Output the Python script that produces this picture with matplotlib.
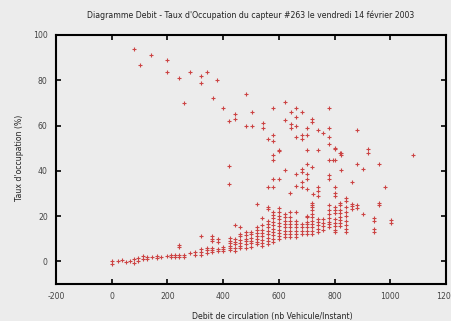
import matplotlib
matplotlib.use("Agg")
import matplotlib.pyplot as plt

# lower band (flow / occupancy rising together)
band_x = [0, 0, 21, 36, 50, 66, 81, 81, 96, 96, 113, 113, 126, 126, 144, 162, 162, 177, 197,
          213, 213, 227, 227, 242, 242, 242, 242, 261, 261, 281, 299, 299,
          321, 321, 321, 321, 341, 341, 341, 361, 361, 361, 361, 361, 361,
          380, 380, 380, 380, 398, 398, 398,
          425, 425, 425, 425, 425, 425, 443, 443, 443, 443, 443, 443,
          461, 461, 461, 461, 461, 461, 461, 481, 481, 481, 481, 481, 481,
          500, 500, 500, 500, 500, 500, 520, 520, 520, 520, 520, 520, 520, 520,
          540, 540, 540, 540, 540, 540, 540, 540,
          562, 562, 562, 562, 562, 562, 562, 562, 562, 562,
          580, 580, 580, 580, 580, 580, 580, 580, 580, 580,
          601, 601, 601, 601, 601, 601, 601, 601, 601, 601,
          622, 622, 622, 622, 622, 622, 622, 622,
          640, 640, 640, 640, 640, 640, 640, 640,
          660, 660, 660, 660, 660, 660, 660,
          682, 682, 682, 682,
          702, 702, 702, 702, 702, 702, 702,
          720, 720, 720, 720, 720, 720, 720, 720, 720, 720,
          741, 741, 741, 741, 741, 760, 760, 760, 760,
          780, 780, 780, 780, 780, 780, 780,
          802, 802, 802, 802, 802, 802, 802, 802,
          820, 820, 820, 820, 820, 820, 820, 820,
          841, 841, 841, 841, 841, 841, 841, 841,
          862, 862, 862, 882, 882, 902, 942, 942, 942, 942, 961, 961, 1002, 1002]
band_y = [-1, 0, 0, 0.5, -0.3, 0.2, -0.6, 1, 0, 1.3, 1.2, 2.3, 1, 2, 2, 1.6, 2.4, 2, 2.3,
          2, 3, 2, 3, 2, 3, 6.3, 7.2, 2, 3, 3.8, 3, 4.3,
          3, 4.3, 5.3, 11.2, 3.8, 5, 6, 4, 5, 6, 9, 10, 11.2,
          4.5, 5.5, 8.7, 9.7, 4.5, 5.5, 6.5,
          5, 6, 7, 8, 9, 10.5, 4.5, 6, 7.5, 8.5, 9.7, 15.9,
          6, 7, 8, 9.5, 11, 12, 15, 6, 7.5, 9, 10, 11.5, 13,
          6.5, 8, 9, 10.5, 12, 13, 7.5, 8.5, 10, 11, 12.5, 14, 15, 25.2,
          6.6, 8, 9.5, 11, 12.5, 14, 16, 19.3,
          7.5, 9, 10.5, 12, 13.5, 15, 16.5, 17.7, 23, 24,
          8.4, 10, 11.5, 13, 14.5, 16, 17.5, 19, 20.5, 21.6,
          9.7, 11, 12.5, 14, 15.5, 17, 18.5, 20, 21.6, 23.7,
          10.6, 12, 13.5, 15, 16.5, 18, 19.5, 20.8,
          10.6, 12, 13.5, 15, 16.5, 18, 19.4, 22,
          10.6, 12, 13.5, 15, 16.5, 17.7, 22,
          12, 13.5, 15, 16.3,
          12, 13.5, 15, 16.5, 17.5, 19.4, 20,
          12, 13.5, 15, 16.5, 18, 19.5, 21, 22.5, 24, 25,
          13, 14.5, 16, 17.5, 18.5, 14, 15.5, 17, 18.5,
          15, 16.3, 17.5, 19, 20.8, 22.5, 24.7,
          12.9, 14, 15.6, 17, 18.5, 21.2, 22.5, 24,
          15.5, 17, 18.2, 19.5, 21.2, 22.5, 24.7, 26,
          13, 14.1, 16, 18, 20, 22, 24, 26.5,
          23, 24.4, 25.5, 23.7, 24.7, 21, 13, 14.1, 18, 19.3, 24.7, 25.9, 17, 18.1]

# scattered middle points
mid_x = [421, 421, 580, 601, 640, 721, 742, 742, 742, 702, 780, 780, 802, 802, 802, 720,
         841, 862, 981, 882, 902, 961, 802, 822, 822, 822, 802, 919, 919, 1080,
         580, 580, 601, 622, 682, 682, 660, 702, 702, 720, 780, 795, 660, 682, 682,
         702, 580, 560, 602, 702, 741, 780, 802]
mid_y = [34, 42, 36.5, 36.5, 30, 29.6, 29, 31, 32.8, 36.2, 36.2, 38, 33, 30, 29, 26,
         28, 35.2, 33, 42.8, 40.9, 42.8, 45, 40.2, 47, 48, 49.8, 48, 49.7, 47,
         45, 46.8, 48.7, 40.3, 41, 39.3, 38.8, 42.8, 38.8, 41.8, 45, 45, 33.5, 35, 33,
         32, 33, 33, 49, 49, 49, 51.8, 50]

# high occupancy points (congested)
high_x = [80, 103, 140, 200, 200, 242, 281, 320, 320, 341, 379, 261, 362, 401, 443, 443,
          421, 481, 503, 481, 503, 542, 542, 580, 622, 643, 660, 682, 660, 622, 643,
          643, 660, 720, 720, 780, 702, 741, 780, 760, 780, 882, 580, 562, 580, 660,
          682, 682, 702, 820]
high_y = [93.7, 86.8, 91, 88.9, 83.7, 81, 83.7, 81.8, 79, 83.7, 80, 70, 72, 67.8, 65, 63,
          62.2, 74, 66, 59.7, 59.7, 61.2, 58.7, 67.7, 70.3, 66, 67.7, 66, 63.9, 62.4, 60.8,
          58.9, 59.7, 63, 61.7, 67.7, 58.9, 58, 58.9, 56.8, 54.9, 58, 56, 54.2, 53.1, 54.9,
          56, 54.2, 56, 48]

x_ticks = [-200, 0, 200, 400, 600, 800, 1000, 1200]
y_ticks = [0, 20, 40, 60, 80, 100]

bg = "#ececec"
red = "#cc4444"
fs = 5.6

fig = plt.figure(figsize=(4.52, 3.21), dpi=100, facecolor=bg)
ax = fig.add_axes([56 / 452, 37 / 321, 390 / 452, 249 / 321])
ax.set_facecolor(bg)

for xs, ys in [(band_x, band_y), (mid_x, mid_y), (high_x, high_y)]:
    ax.plot(xs, ys, linestyle="none", marker="+", markersize=3.2, markeredgewidth=0.8,
            color=red)

ax.set_xlim(-200, 1200)
ax.set_ylim(-10, 100)
ax.set_xticks(x_ticks)
ax.set_yticks(y_ticks)
ax.set_xticklabels([str(t) for t in x_ticks], fontsize=fs, color="#444444")
ax.set_yticklabels([str(t) for t in y_ticks], fontsize=fs, color="#444444")
ax.tick_params(direction="in", length=3.5, width=1.2, top=True, right=True, pad=6)
for s in ax.spines.values():
    s.set_linewidth(1.5)
    s.set_color("black")

fig.text(251 / 452, 1 - 15 / 321, "Diagramme Debit - Taux d'Occupation du capteur #263 le vendredi 14 février 2003",
         ha="center", va="center", fontsize=fs, color="#222222")
fig.text(272 / 452, 1 - 316 / 321, "Debit de circulation (nb Vehicule/Instant)",
         ha="center", va="center", fontsize=fs, color="#222222")
fig.text(20 / 452, 1 - 158 / 321, "Taux d'occupation (%)", rotation=90,
         ha="center", va="center", fontsize=fs, color="#222222")

fig.savefig("out.png", dpi=100, facecolor=bg)
